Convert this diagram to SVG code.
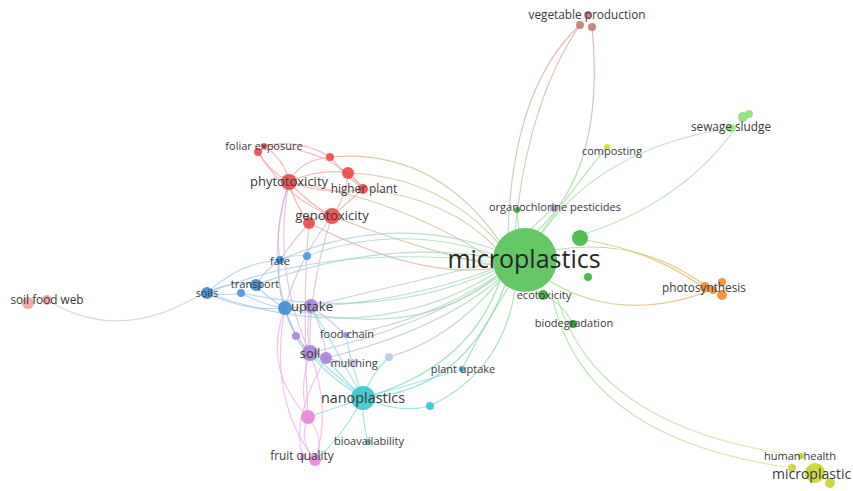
<svg xmlns="http://www.w3.org/2000/svg" width="853" height="491" viewBox="0 0 853 491">
<style>
.e{fill:none;stroke-width:1.2;stroke-opacity:0.75}
.er{stroke:#f2a2a2}.eb{stroke:#a6c8ec}.ep{stroke:#cdb6ec}.epk{stroke:#efb0e6}.ec{stroke:#86dcdf}.eg{stroke:#a4dca4}.erb{stroke:#d9b4d6}.egr{stroke:#c9c9d9}
.t{font-family:"Open Sans","DejaVu Sans",sans-serif;fill:#3a3a3a;text-anchor:middle}
.s11{font-size:11px}.s12{font-size:11.8px}.s13{font-size:13px}.s14{font-size:14.4px}.s25{font-size:25px;fill:#262626}
</style>
<defs>
<linearGradient id="gVP" gradientUnits="userSpaceOnUse" x1="0" y1="25" x2="0" y2="235"><stop offset="0" stop-color="#d9a0a0"/><stop offset="1" stop-color="#9fd89f"/></linearGradient>
<linearGradient id="gPH" gradientUnits="userSpaceOnUse" x1="545" y1="0" x2="712" y2="0"><stop offset="0" stop-color="#a6d890"/><stop offset="1" stop-color="#f0aa48"/></linearGradient>
<linearGradient id="gHH" gradientUnits="userSpaceOnUse" x1="550" y1="0" x2="800" y2="0"><stop offset="0" stop-color="#a6dca6"/><stop offset="1" stop-color="#dfe79a"/></linearGradient>
<linearGradient id="gRM" gradientUnits="userSpaceOnUse" x1="290" y1="0" x2="500" y2="0"><stop offset="0" stop-color="#eea090"/><stop offset="1" stop-color="#b8c890"/></linearGradient>
<linearGradient id="gBM" gradientUnits="userSpaceOnUse" x1="210" y1="0" x2="500" y2="0"><stop offset="0" stop-color="#a2c4ec"/><stop offset="1" stop-color="#a2dcae"/></linearGradient>
<linearGradient id="gCM" gradientUnits="userSpaceOnUse" x1="365" y1="0" x2="510" y2="0"><stop offset="0" stop-color="#70d6dc"/><stop offset="1" stop-color="#90d894"/></linearGradient>
<linearGradient id="gPM" gradientUnits="userSpaceOnUse" x1="310" y1="0" x2="500" y2="0"><stop offset="0" stop-color="#c8b4ea"/><stop offset="1" stop-color="#a4dcac"/></linearGradient>
</defs>
<rect width="853" height="491" fill="#ffffff"/>
<g id="connectors">
<path class="e er" d="M258 152 Q268 170 289 182"/>
<path class="e er" d="M264 146 Q285 160 289 182"/>
<path class="e er" d="M264 146 Q300 138 330 157"/>
<path class="e er" d="M258 152 Q288 200 332 216"/>
<path class="e er" d="M264 146 Q330 148 363 189"/>
<path class="e er" d="M330 157 Q300 160 289 182"/>
<path class="e er" d="M330 157 Q345 175 363 189"/>
<path class="e er" d="M289 182 Q320 168 348 173"/>
<path class="e er" d="M289 182 Q310 205 332 216"/>
<path class="e er" d="M289 182 Q295 205 309 223"/>
<path class="e er" d="M289 182 Q330 196 363 189"/>
<path class="e er" d="M348 173 Q345 200 332 216"/>
<path class="e er" d="M348 173 Q358 180 363 189"/>
<path class="e er" d="M363 189 Q345 205 332 216"/>
<path class="e er" d="M309 223 Q320 214 332 216"/>
<path class="e" stroke="url(#gRM)" d="M330 157 Q435 148 500 242"/>
<path class="e" stroke="url(#gRM)" d="M289 182 Q400 198 497 262"/>
<path class="e" stroke="url(#gRM)" d="M332 216 Q420 250 496 266"/>
<path class="e" stroke="url(#gRM)" d="M363 189 Q450 198 498 250"/>
<path class="e" stroke="url(#gRM)" d="M348 173 Q440 176 500 245"/>
<path class="e" stroke="url(#gRM)" d="M309 223 Q420 280 497 268"/>
<path class="e erb" d="M289 182 Q272 270 310 353"/>
<path class="e erb" d="M332 216 Q308 290 310 353"/>
<path class="e erb" d="M332 216 Q298 260 285 308"/>
<path class="e erb" d="M289 182 Q268 250 285 308"/>
<path class="e erb" d="M289 182 Q274 225 280 260"/>
<path class="e erb" d="M309 223 Q290 245 280 260"/>
<path class="e erb" d="M309 223 Q302 300 308 417"/>
<path class="e eb" d="M207 293 Q230 280 256 285"/>
<path class="e eb" d="M207 293 Q225 296 241 293"/>
<path class="e eb" d="M207 293 Q245 312 285 308"/>
<path class="e eb" d="M207 293 Q240 262 280 260"/>
<path class="e eb" d="M256 285 Q265 270 280 260"/>
<path class="e eb" d="M256 285 Q270 300 285 308"/>
<path class="e eb" d="M280 260 Q276 285 285 308"/>
<path class="e eb" d="M280 260 Q295 254 307 256"/>
<path class="e eb" d="M241 293 Q265 306 285 308"/>
<path class="e egr" d="M47 300 Q120 345 203 293"/>
<path class="e" stroke="url(#gBM)" d="M207 293 Q370 352 497 272"/>
<path class="e" stroke="url(#gBM)" d="M207 293 Q330 243 495 262"/>
<path class="e" stroke="url(#gBM)" d="M256 285 Q380 238 495 258"/>
<path class="e" stroke="url(#gBM)" d="M280 260 Q390 212 496 250"/>
<path class="e" stroke="url(#gBM)" d="M307 256 Q400 222 495 255"/>
<path class="e" stroke="url(#gBM)" d="M285 308 Q400 305 496 268"/>
<path class="e" stroke="url(#gBM)" d="M241 293 Q380 322 496 270"/>
<path class="e" stroke="url(#gBM)" d="M285 308 Q420 342 498 275"/>
<path class="e ep" d="M311 306 Q305 330 310 353"/>
<path class="e ep" d="M285 308 Q292 335 310 353"/>
<path class="e ep" d="M311 306 Q330 320 346 335"/>
<path class="e ep" d="M311 306 Q325 335 326 358"/>
<path class="e ep" d="M310 353 Q318 352 326 358"/>
<path class="e ep" d="M296 336 Q300 348 310 353"/>
<path class="e ep" d="M296 336 Q288 322 285 308"/>
<path class="e ep" d="M326 358 Q340 362 353 363"/>
<path class="e" stroke="url(#gPM)" d="M311 306 Q420 280 496 262"/>
<path class="e" stroke="url(#gPM)" d="M346 335 Q430 320 498 275"/>
<path class="e" stroke="url(#gPM)" d="M389 357 Q450 340 500 280"/>
<path class="e" stroke="url(#gPM)" d="M326 358 Q440 330 500 278"/>
<path class="e" stroke="url(#gPM)" d="M310 353 Q420 328 499 277"/>
<path class="e epk" d="M310 353 Q298 390 308 417"/>
<path class="e epk" d="M310 353 Q332 410 315 460"/>
<path class="e epk" d="M285 308 Q262 370 308 417"/>
<path class="e epk" d="M285 308 Q268 400 315 460"/>
<path class="e epk" d="M308 417 Q298 440 315 460"/>
<path class="e epk" d="M308 417 Q326 440 315 460"/>
<path class="e epk" d="M326 358 Q290 420 303 457"/>
<path class="e ec" d="M363 398 Q330 370 310 353"/>
<path class="e ec" d="M363 398 Q340 375 326 358"/>
<path class="e ec" d="M363 398 Q350 360 346 335"/>
<path class="e ec" d="M363 398 Q330 340 311 306"/>
<path class="e ec" d="M363 398 Q300 360 285 308"/>
<path class="e ec" d="M363 398 Q330 410 308 417"/>
<path class="e ec" d="M363 398 Q362 420 368 442"/>
<path class="e ec" d="M363 398 Q340 440 315 460"/>
<path class="e ec" d="M363 398 Q400 414 430 406"/>
<path class="e ec" d="M363 398 Q420 382 462 369"/>
<path class="e ec" d="M389 357 Q370 375 363 398"/>
<path class="e" stroke="url(#gCM)" stroke-width="1.8" d="M363 398 Q465 392 505 285"/>
<path class="e" stroke="url(#gCM)" d="M363 398 Q470 368 500 280"/>
<path class="e" stroke="url(#gCM)" d="M430 406 Q502 372 515 290"/>
<path class="e" stroke="url(#gCM)" d="M462 369 Q482 330 508 288"/>
<path class="e" stroke="url(#gVP)" d="M508 235 Q512 88 580 25"/>
<path class="e" stroke="url(#gVP)" d="M515 232 Q528 100 580 25"/>
<path class="e" stroke="url(#gVP)" d="M592 27 Q606 170 535 233"/>
<path class="e eg" d="M540 234 Q580 180 607 147"/>
<path class="e eg" d="M540 236 Q600 148 731 128"/>
<path class="e eg" d="M584 234 Q690 200 743 117"/>
<path class="e eg" d="M519 230 L517 210"/>
<path class="e eg" d="M530 230 Q545 215 554 208"/>
<path class="e eg" d="M530 288 Q562 300 573 324"/>
<path class="e" stroke="url(#gPH)" d="M553 250 Q640 236 707 287"/>
<path class="e" stroke="url(#gPH)" stroke-width="2" d="M548 280 Q620 325 712 290"/>
<path class="e" stroke="url(#gPH)" d="M585 240 Q650 250 703 287"/>
<path class="e" stroke="url(#gHH)" d="M553 300 Q585 440 793 468"/>
<path class="e" stroke="url(#gHH)" d="M558 300 Q598 430 801 456"/>
</g>
<g id="node-r-small"><circle cx="330" cy="157" r="4" fill="#e64a4a" fill-opacity="0.9"/></g>
<g id="node-r2"><circle cx="348" cy="173" r="6" fill="#e64a4a" fill-opacity="0.9"/></g>
<g id="node-r3"><circle cx="309" cy="223" r="6" fill="#e64a4a" fill-opacity="0.9"/></g>
<g id="node-fe1"><circle cx="258" cy="152" r="4" fill="#e64a4a" fill-opacity="0.9"/></g>
<g id="node-foliar-exposure"><circle cx="264" cy="146" r="3" fill="#e64a4a" fill-opacity="0.9"/><text class="t s11" x="264" y="149.5">foliar exposure</text></g>
<g id="node-phytotoxicity"><circle cx="289" cy="182" r="8" fill="#e64a4a" fill-opacity="0.9"/><text class="t s13" x="289" y="186">phytotoxicity</text></g>
<g id="node-higher-plant"><circle cx="363" cy="189" r="5" fill="#e64a4a" fill-opacity="0.9"/><text class="t s12" x="364" y="193">higher plant</text></g>
<g id="node-genotoxicity"><circle cx="332" cy="216" r="8" fill="#e64a4a" fill-opacity="0.9"/><text class="t s13" x="332" y="220">genotoxicity</text></g>
<g id="node-b1"><circle cx="307" cy="256" r="4" fill="#4a96da" fill-opacity="0.9"/></g>
<g id="node-b2"><circle cx="241" cy="293" r="4" fill="#4a96da" fill-opacity="0.9"/></g>
<g id="node-fate"><circle cx="280" cy="260" r="4" fill="#3f8cd0" fill-opacity="0.9"/><text class="t s11" x="280" y="264.5">fate</text></g>
<g id="node-transport"><circle cx="256" cy="285" r="6" fill="#3f8cd0" fill-opacity="0.9"/><text class="t s11" x="255" y="288">transport</text></g>
<g id="node-soils"><circle cx="207" cy="293" r="6" fill="#3f8cd0" fill-opacity="0.9"/><text class="t s11" x="207" y="297">soils</text></g>
<g id="node-uptake-blue"><circle cx="285" cy="308" r="7" fill="#3f8cd0" fill-opacity="0.9"/></g>
<g id="node-uptake"><circle cx="311" cy="306" r="7" fill="#a682d8" fill-opacity="0.9"/><text class="t s13" x="312" y="311">uptake</text></g>
<g id="node-p1"><circle cx="296" cy="336" r="4" fill="#a682d8" fill-opacity="0.85"/></g>
<g id="node-food-chain"><circle cx="346" cy="335" r="3" fill="#a682d8" fill-opacity="0.85"/><text class="t s11" x="347" y="338">food chain</text></g>
<g id="node-mul2"><circle cx="326" cy="358" r="6" fill="#a682d8" fill-opacity="0.9"/></g>
<g id="node-soil"><circle cx="310" cy="353" r="8" fill="#a682d8" fill-opacity="0.9"/><text class="t s13" x="310" y="357.5">soil</text></g>
<g id="node-mulching"><circle cx="353" cy="363" r="4" fill="#c9b8e6" fill-opacity="0.8"/><text class="t s11" x="354" y="366.5">mulching</text></g>
<g id="node-lb"><circle cx="389" cy="357" r="4" fill="#bccbe8" fill-opacity="0.9"/></g>
<g id="node-pk1"><circle cx="308" cy="417" r="7" fill="#e884d8" fill-opacity="0.9"/></g>
<g id="node-fq2"><circle cx="315" cy="460" r="6" fill="#e884d8" fill-opacity="0.9"/></g>
<g id="node-fruit-quality"><circle cx="303" cy="457" r="3" fill="#e884d8" fill-opacity="0.8"/><text class="t s12" x="302" y="460">fruit quality</text></g>
<g id="node-c1"><circle cx="430" cy="406" r="4" fill="#32c6d0" fill-opacity="0.9"/></g>
<g id="node-nanoplastics"><circle cx="363" cy="398" r="12" fill="#3cc4cc" fill-opacity="0.9"/><text class="t s14" x="363" y="403">nanoplastics</text></g>
<g id="node-bioavailability"><circle cx="368" cy="442" r="3" fill="#5cc8c0" fill-opacity="0.9"/><text class="t s11" x="369" y="445">bioavailability</text></g>
<g id="node-plant-uptake"><circle cx="462" cy="369" r="3" fill="#38acd8" fill-opacity="0.9"/><text class="t s11" x="463" y="373">plant uptake</text></g>
<g id="node-sfw1"><circle cx="28" cy="303" r="6" fill="#f0a0a0" fill-opacity="0.9"/></g>
<g id="node-soil-food-web"><circle cx="47" cy="300" r="5" fill="#f0a0a0" fill-opacity="0.9"/><text class="t s12" x="47" y="303.5">soil food web</text></g>
<g id="node-g1"><circle cx="580" cy="238" r="8" fill="#4cbb4c" fill-opacity="0.95"/></g>
<g id="node-g2"><circle cx="588" cy="277" r="4" fill="#46b646" fill-opacity="0.95"/></g>
<g id="node-oc-g"><circle cx="517" cy="210" r="3" fill="#4caf50"/></g>
<g id="node-microplastics"><circle cx="525" cy="260" r="32" fill="#5ec45e" fill-opacity="0.95"/><text class="t s25" x="524" y="267.5">microplastics</text></g>
<g id="node-organochlorine-pesticides"><circle cx="554" cy="208" r="4" fill="#b8a6d8"/><text class="t s11" x="555" y="210.5">organochlorine pesticides</text></g>
<g id="node-ecotoxicity"><circle cx="543" cy="295" r="5" fill="#3fae3f" fill-opacity="0.95"/><text class="t s11" x="544" y="298.5">ecotoxicity</text></g>
<g id="node-biodegradation"><circle cx="573" cy="324" r="4" fill="#3a9e3a"/><text class="t s11" x="574" y="326.5">biodegradation</text></g>
<g id="node-ph2"><circle cx="722" cy="282" r="4" fill="#f28c28" fill-opacity="0.9"/></g>
<g id="node-ph3"><circle cx="722" cy="295" r="5" fill="#f28c28" fill-opacity="0.9"/></g>
<g id="node-ph4"><circle cx="713" cy="290" r="4" fill="#f28c28" fill-opacity="0.9"/></g>
<g id="node-photosynthesis"><circle cx="705" cy="287" r="5" fill="#f28c28" fill-opacity="0.9"/><text class="t s12" x="704" y="291.5">photosynthesis</text></g>
<g id="node-vp1"><circle cx="580" cy="25" r="4" fill="#c47a7a" fill-opacity="0.9"/></g>
<g id="node-vp2"><circle cx="592" cy="27" r="4" fill="#c47a7a" fill-opacity="0.9"/></g>
<g id="node-vegetable-production"><circle cx="588" cy="15" r="4" fill="#c47a7a" fill-opacity="0.9"/><text class="t s12" x="587" y="19">vegetable production</text></g>
<g id="node-ss1"><circle cx="749" cy="114" r="4" fill="#8ee07a" fill-opacity="0.9"/></g>
<g id="node-ss2"><circle cx="743" cy="117" r="5" fill="#8ee07a" fill-opacity="0.9"/></g>
<g id="node-sewage-sludge"><circle cx="731" cy="128" r="4" fill="#8ee07a" fill-opacity="0.9"/><text class="t s12" x="731" y="130.5">sewage sludge</text></g>
<g id="node-composting"><circle cx="607" cy="147" r="3" fill="#d8dc40"/><text class="t s11" x="612" y="155">composting</text></g>
<g id="node-y2"><circle cx="830" cy="483" r="5" fill="#c8d42c" fill-opacity="0.9"/></g>
<g id="node-y3"><circle cx="792" cy="468" r="4" fill="#c8d42c" fill-opacity="0.9"/></g>
<g id="node-human-health"><circle cx="801" cy="456" r="3" fill="#c8d42c"/><text class="t s11" x="800" y="459.5">human health</text></g>
<g id="node-microplastic"><circle cx="815" cy="473" r="10" fill="#c8d42c" fill-opacity="0.9"/><text class="t" x="772" y="479" style="text-anchor:start;font-size:14px">microplastic</text></g>
</svg>
